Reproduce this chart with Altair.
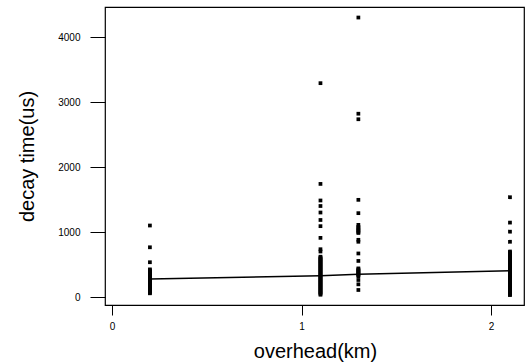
import altair as alt
import pandas as pd

# category positions (overhead, km)
overheads = [0.2, 1.1, 1.3, 2.1]

# decay time observations (us) per overhead
decay_02 = [1100, 765, 535, 425, 410, 395, 380, 365, 350, 335, 320, 305, 290, 275,
            260, 245, 230, 215, 200, 185, 170, 155, 140, 125, 110, 95, 80, 65, 57]
decay_11 = [3290, 1740, 1485, 1400, 1300, 1185, 1090, 910, 735, 700, 620, 605, 590,
            575, 560, 545, 530, 515, 500, 485, 470, 455, 440, 425, 410, 395, 380,
            365, 350, 335, 320, 305, 290, 275, 260, 245, 230, 215, 200, 185, 170,
            155, 140, 125, 110, 95, 80, 65, 50, 35]
decay_13 = [4300, 2820, 2735, 1495, 1290, 1110, 1080, 1060, 1040, 1020, 1000, 985,
            880, 850, 670, 555, 440, 425, 410, 395, 380, 365, 350, 335, 320, 262,
            195, 108]
decay_21 = [1535, 1145, 1005, 850, 700, 685, 670, 655, 640, 625, 610, 595, 580,
            565, 550, 535, 520, 505, 490, 475, 460, 445, 430, 415, 400, 385, 370,
            355, 340, 325, 310, 295, 280, 265, 250, 235, 220, 205, 190, 175, 160,
            145, 130, 115, 100, 85, 70, 55, 40, 30]

# mean decay time per overhead (connected line)
mean_decay = [277, 328, 349, 405]

x_ticks = [0, 1, 2]
y_ticks = [0, 1000, 2000, 3000, 4000]

rows = []
for xv, ys in zip(overheads, [decay_02, decay_11, decay_13, decay_21]):
    for yv in ys:
        rows.append({"overhead": xv, "decay": yv})
pts = pd.DataFrame(rows)
means = pd.DataFrame({"overhead": overheads, "decay": mean_decay})

FONT = "Liberation Sans"

xscale = alt.Scale(domain=[-0.037, 2.174], nice=False, zero=False)
yscale = alt.Scale(domain=[-123, 4462], nice=False, zero=False)

xaxis = alt.Axis(values=x_ticks, format="d", title="overhead(km)", grid=False,
                 domain=False, tickSize=10, tickColor="black", labelColor="black",
                 labelFontSize=10, labelFont=FONT, labelPadding=6,
                 titleFont=FONT, titleFontSize=20, titleFontWeight="normal",
                 titleColor="black", titleX=210, titleY=46,
                 titleBaseline="middle", titleAlign="center")
yaxis = alt.Axis(values=y_ticks, format="d", title="decay time(us)", grid=False,
                 domain=False, tickSize=15, tickColor="black", labelColor="black",
                 labelFontSize=10, labelFont=FONT, labelPadding=10,
                 titleFont=FONT, titleFontSize=20, titleFontWeight="normal",
                 titleColor="black", titleX=-78, titleY=149, titleAngle=270,
                 titleBaseline="middle", titleAlign="center")

points = alt.Chart(pts).mark_point(shape="square", filled=True, color="black",
                                   size=14, opacity=1).encode(
    x=alt.X("overhead:Q", scale=xscale, axis=xaxis),
    y=alt.Y("decay:Q", scale=yscale, axis=yaxis),
)

line = alt.Chart(means).mark_line(color="black", strokeWidth=1.5).encode(
    x=alt.X("overhead:Q", scale=xscale),
    y=alt.Y("decay:Q", scale=yscale),
)

chart = (points + line).properties(
    width=419, height=298,
    autosize=alt.AutoSizeParams(type="none"),
    padding={"left": 105, "top": 7, "right": 6, "bottom": 59},
    background="white",
).configure_view(stroke="black", strokeWidth=1.2)

chart.save("out.html", embed_options={"renderer": "svg", "actions": False})
